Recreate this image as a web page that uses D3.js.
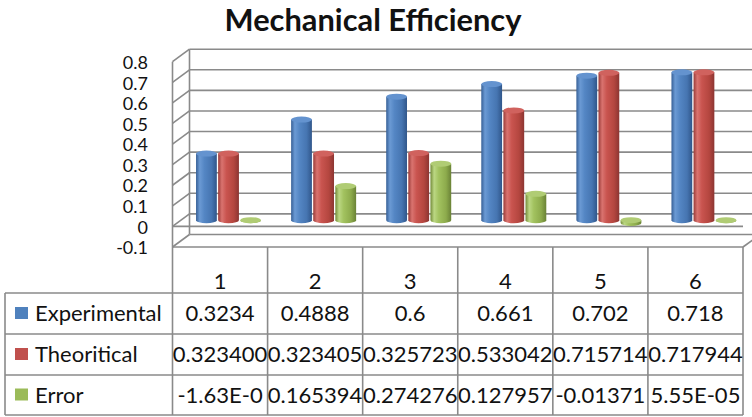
<!DOCTYPE html>
<html>
<head>
<meta charset="utf-8">
<script src="https://cdn.jsdelivr.net/npm/d3@7/dist/d3.min.js"></script>
<style>
  html, body { margin: 0; padding: 0; background: #ffffff; }
  svg { display: block; }
  text { font-family: Lato, "Open Sans", "Noto Sans", sans-serif; fill: #111; }
</style>
</head>
<body>
<svg id="chart" width="752" height="417"></svg>
<script>
// ---- data ----
const categories = ["1", "2", "3", "4", "5", "6"];
const seriesNames = ["Experimental", "Theoritical", "Error"];
const experimental = [0.3234, 0.4888, 0.6, 0.661, 0.702, 0.718];
const theoretical = [0.3234, 0.323405, 0.325723, 0.533042, 0.715714, 0.717944];
const errorValues = [-1.63e-7, 0.165394, 0.274276, 0.127957, -0.01371, 5.55e-5];
const yTicks = [-0.1, 0, 0.1, 0.2, 0.3, 0.4, 0.5, 0.6, 0.7, 0.8];
const seriesColors = ["#4f81bd", "#c0504d", "#9bbb59"];
const chartTitle = "Mechanical Efficiency";

const seriesValues = [experimental, theoretical, errorValues];

// spreadsheet-style "General" cell text, limited to the cell width
function generalFormat(v) {
  if (v !== 0 && Math.abs(v) < 1e-4) {
    const s = v.toExponential(2).toUpperCase().replace(/E([+-])(\d)$/, "E$10$2");
    return s.slice(0, 8);
  }
  let s = String(v);
  if (s.length > 8) s = v.toFixed(Math.max(0, 8 - s.indexOf(".") - 1));
  return s;
}
const cellFormats = [v => String(v), d3.format(".6f"), generalFormat];

// ---- layout ----
const svg = d3.select("#chart");
const plotLeft = 172.5, plotRight = 743;
const depth = { dx: 17, dy: -12.5 };
const gridColor = "#8a8a8a";

const x0 = d3.scaleBand().domain(categories).range([plotLeft, plotRight]);
const x1 = d3.scaleBand().domain(seriesNames).range([-32.5, 32.5]).paddingInner(0.06);
const y = d3.scaleLinear().domain([-0.1, 0.8]).range([247, 61.7]);

// ---- title ----
const title = svg.append("text")
  .attr("x", 373).attr("y", 31)
  .attr("text-anchor", "middle")
  .style("font-weight", "bold")
  .style("font-size", "24px")
  .text(chartTitle);
const tw = title.node().getComputedTextLength();
title.style("font-size", (24 * 297 / tw) + "px");

// ---- walls and gridlines ----
const grid = svg.append("g")
  .attr("fill", "none")
  .attr("stroke", gridColor)
  .attr("stroke-width", 1.6);

// back wall lines
grid.selectAll("line.back").data(yTicks).join("line")
  .attr("class", "back")
  .attr("x1", plotLeft + depth.dx).attr("x2", plotRight + depth.dx)
  .attr("y1", d => y(d) + depth.dy).attr("y2", d => y(d) + depth.dy);
// side wall lines
grid.selectAll("line.side").data(yTicks).join("line")
  .attr("class", "side")
  .attr("x1", plotLeft).attr("x2", plotLeft + depth.dx)
  .attr("y1", d => y(d)).attr("y2", d => y(d) + depth.dy);
// back wall left edge
grid.append("line")
  .attr("x1", plotLeft + depth.dx).attr("x2", plotLeft + depth.dx)
  .attr("y1", y(0.8) + depth.dy).attr("y2", y(-0.1) + depth.dy);
// front edge of the zero plane
grid.append("line")
  .attr("x1", plotLeft).attr("x2", plotRight)
  .attr("y1", y(0)).attr("y2", y(0));
// right edge of the floor
grid.append("line")
  .attr("x1", plotRight).attr("x2", plotRight + depth.dx)
  .attr("y1", y(-0.1)).attr("y2", y(-0.1) + depth.dy);

// ---- y axis labels ----
const yAxis = d3.axisLeft(y)
  .tickValues(yTicks)
  .tickSize(0)
  .tickPadding(0)
  .tickFormat(d => String(Math.round(d * 10) / 10));
const yAxisG = svg.append("g").attr("transform", "translate(148,1)").call(yAxis);
yAxisG.select(".domain").remove();
yAxisG.selectAll("text")
  .style("font-family", "Lato, 'Open Sans', sans-serif")
  .style("font-size", "18px")
  .attr("fill", "#111");

// ---- cylinders ----
const defs = svg.append("defs");
const shades = [
  ["#365f96", "#6b9ad4", "#5486c4", "#4675b1", "#30568a"],
  ["#9a3b38", "#d9736f", "#c9544f", "#b4463f", "#8c3532"],
  ["#748c3a", "#bbd783", "#a2c25f", "#8dab4c", "#6a8236"]
];
const stopOffsets = [0, 0.18, 0.4, 0.75, 1];
seriesNames.forEach((s, i) => {
  const g = defs.append("linearGradient")
    .attr("id", "cyl" + i)
    .attr("x1", 0).attr("x2", 1).attr("y1", 0).attr("y2", 0);
  g.selectAll("stop").data(stopOffsets).join("stop")
    .attr("offset", d => d)
    .attr("stop-color", (d, k) => shades[i][k]);
});
const capColors = ["#6493cf", "#d0625e", "#b0cc74"];

const bars = [];
categories.forEach((c, ci) => {
  seriesNames.forEach((s, si) => {
    bars.push({ c, s, si, v: seriesValues[si][ci] });
  });
});

const rx = x1.bandwidth() / 2;
const ry = 3;
const barG = svg.append("g");
const barNodes = barG.selectAll("g.bar").data(bars).join("g").attr("class", "bar");

function barGeom(d) {
  const cx = x0(d.c) + x0.bandwidth() / 2 + depth.dx / 2 + x1(d.s) + rx;
  const yv = y(d.v) + depth.dy / 2;
  const y0 = y(0) + depth.dy / 2;
  return { cx, top: Math.min(yv, y0), bot: Math.max(yv, y0) };
}

barNodes.append("path")
  .attr("d", d => {
    const g = barGeom(d);
    return `M${g.cx - rx},${g.top} L${g.cx - rx},${g.bot} ` +
      `A${rx},${ry} 0 0 0 ${g.cx + rx},${g.bot} L${g.cx + rx},${g.top} Z`;
  })
  .attr("fill", d => `url(#cyl${d.si})`);

barNodes.append("ellipse")
  .attr("cx", d => barGeom(d).cx)
  .attr("cy", d => barGeom(d).top)
  .attr("rx", rx)
  .attr("ry", ry)
  .attr("fill", d => capColors[d.si]);

// ---- data table ----
const headerTop = y(-0.1);
const rowEdges = [293, 334, 375, 415];
const tableLeft = 5;
const table = svg.append("g")
  .attr("stroke", gridColor)
  .attr("stroke-width", 1.6)
  .attr("fill", "none");

// horizontal rules
table.append("line")
  .attr("x1", plotLeft).attr("x2", plotRight)
  .attr("y1", headerTop).attr("y2", headerTop);
table.selectAll("line.row").data(rowEdges).join("line")
  .attr("class", "row")
  .attr("x1", tableLeft).attr("x2", plotRight)
  .attr("y1", d => d).attr("y2", d => d);
// vertical rules
table.append("line")
  .attr("x1", tableLeft).attr("x2", tableLeft)
  .attr("y1", rowEdges[0]).attr("y2", rowEdges[3]);
table.append("line")
  .attr("x1", plotLeft).attr("x2", plotLeft)
  .attr("y1", y(0.8)).attr("y2", rowEdges[3]);
const colEdges = categories.map(c => x0(c) + x0.bandwidth());
table.selectAll("line.col").data(colEdges).join("line")
  .attr("class", "col")
  .attr("x1", d => d).attr("x2", d => d)
  .attr("y1", headerTop).attr("y2", rowEdges[3]);

const tableFont = "22px";
// category header
svg.append("g").selectAll("text").data(categories).join("text")
  .attr("x", d => x0(d) + x0.bandwidth() / 2)
  .attr("y", 281)
  .attr("dy", "0.36em")
  .attr("text-anchor", "middle")
  .style("font-size", tableFont)
  .text(d => d);

// series rows
seriesNames.forEach((s, si) => {
  const cy = (rowEdges[si] + rowEdges[si + 1]) / 2;
  const row = svg.append("g");
  row.append("rect")
    .attr("x", 15).attr("y", cy - 6.5)
    .attr("width", 13).attr("height", 12)
    .attr("fill", seriesColors[si]);
  row.append("text")
    .attr("x", 35).attr("y", cy)
    .attr("dy", "0.36em")
    .style("font-size", tableFont)
    .text(s);
  row.selectAll("text.cell").data(seriesValues[si]).join("text")
    .attr("class", "cell")
    .attr("x", (d, i) => x0(categories[i]) + x0.bandwidth() / 2)
    .attr("y", cy)
    .attr("dy", "0.36em")
    .attr("text-anchor", "middle")
    .style("font-size", tableFont)
    .text(d => cellFormats[si](d));
});
</script>
</body>
</html>
